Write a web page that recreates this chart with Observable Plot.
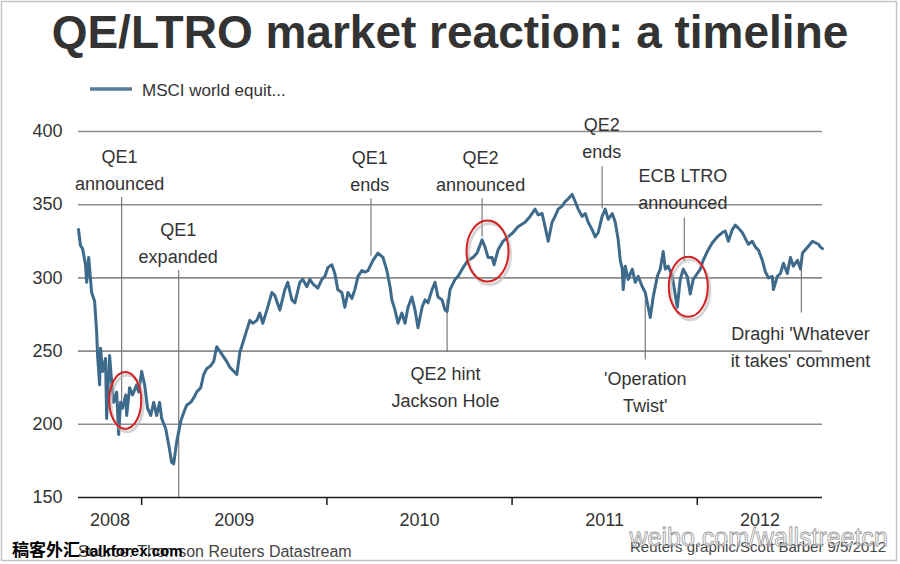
<!DOCTYPE html>
<html>
<head>
<meta charset="utf-8">
<script src="https://cdn.jsdelivr.net/npm/d3@7"></script>
<script src="https://cdn.jsdelivr.net/npm/@observablehq/plot@0.6"></script>
<style>
  html, body { margin: 0; padding: 0; background: #fff; }
  #wrap { position: relative; width: 900px; height: 564px; overflow: hidden; background: #fff;
          font-family: "Liberation Sans", Arial, sans-serif; }
  #plot { position: absolute; left: 0; top: 0; }
  #deco { position: absolute; left: 0; top: 0; pointer-events: none; }
</style>
</head>
<body>
<div id="wrap">
  <div id="plot"></div>
  <svg id="deco" width="900" height="564" xmlns="http://www.w3.org/2000/svg"></svg>
</div>
<script>
// ---------------- data ----------------
const titleText = "QE/LTRO market reaction: a timeline";
const seriesName = "MSCI world equit...";
const sourceText = "Source: Thomson Reuters Datastream";
const creditText = "Reuters graphic/Scott Barber 9/5/2012";
const watermarkLeftCJK = "稿客外汇";
const watermarkLeftLatin = "-talkforex.com";
const watermarkRight = "weibo.com/wallstreetcn";

// decimal years (date of observation)
const years = [
  2008.659, 2008.670, 2008.681, 2008.697, 2008.703, 2008.714, 2008.730, 2008.746, 2008.757, 2008.762,
  2008.773, 2008.778, 2008.789, 2008.805, 2008.811, 2008.827, 2008.838, 2008.849, 2008.865, 2008.876,
  2008.886, 2008.897, 2008.914, 2008.919, 2008.935, 2008.951, 2008.973, 2008.984, 2009.000, 2009.016,
  2009.032, 2009.049, 2009.065, 2009.081, 2009.097, 2009.108, 2009.130, 2009.146, 2009.162, 2009.173,
  2009.189, 2009.211, 2009.227, 2009.243, 2009.265, 2009.281, 2009.297, 2009.319, 2009.335, 2009.351,
  2009.373, 2009.389, 2009.405, 2009.427, 2009.459, 2009.476, 2009.514, 2009.530, 2009.557, 2009.584,
  2009.600, 2009.622, 2009.638, 2009.654, 2009.676, 2009.703, 2009.719, 2009.746, 2009.773, 2009.789,
  2009.811, 2009.827, 2009.854, 2009.870, 2009.892, 2009.908, 2009.924, 2009.951, 2009.973, 2009.989,
  2010.005, 2010.027, 2010.043, 2010.059, 2010.081, 2010.097, 2010.114, 2010.135, 2010.151, 2010.168,
  2010.189, 2010.205, 2010.222, 2010.249, 2010.276, 2010.303, 2010.324, 2010.341, 2010.351, 2010.368,
  2010.384, 2010.405, 2010.422, 2010.438, 2010.459, 2010.476, 2010.492, 2010.514, 2010.530, 2010.546,
  2010.568, 2010.584, 2010.600, 2010.622, 2010.638, 2010.649, 2010.665, 2010.692, 2010.708, 2010.735,
  2010.762, 2010.789, 2010.811, 2010.838, 2010.854, 2010.870, 2010.892, 2010.903, 2010.924, 2010.951,
  2010.978, 2011.005, 2011.032, 2011.070, 2011.097, 2011.124, 2011.141, 2011.162, 2011.178, 2011.195,
  2011.216, 2011.232, 2011.249, 2011.270, 2011.286, 2011.303, 2011.324, 2011.341, 2011.357, 2011.378,
  2011.395, 2011.411, 2011.432, 2011.449, 2011.465, 2011.486, 2011.503, 2011.519, 2011.541, 2011.557,
  2011.573, 2011.584, 2011.595, 2011.600, 2011.611, 2011.627, 2011.649, 2011.665, 2011.681, 2011.703,
  2011.719, 2011.735, 2011.746, 2011.762, 2011.784, 2011.800, 2011.816, 2011.827, 2011.843, 2011.865,
  2011.892, 2011.908, 2011.924, 2011.946, 2011.962, 2011.978, 2012.000, 2012.016, 2012.032, 2012.054,
  2012.081, 2012.108, 2012.135, 2012.151, 2012.168, 2012.189, 2012.205, 2012.222, 2012.243, 2012.259,
  2012.276, 2012.297, 2012.314, 2012.330, 2012.351, 2012.368, 2012.384, 2012.405, 2012.411, 2012.432,
  2012.449, 2012.465, 2012.486, 2012.503, 2012.519, 2012.541, 2012.557, 2012.568, 2012.595, 2012.622,
  2012.638, 2012.654, 2012.665, 2012.676
];
const msciWorld = [
  333, 322, 320, 309, 297, 314, 290, 284, 263, 247,
  227, 252, 236, 245, 204, 247, 229, 215, 222, 193,
  215, 211, 220, 206, 225, 220, 227, 222, 236, 227,
  211, 206, 215, 206, 215, 204, 197, 186, 174, 173,
  188, 202, 208, 213, 215, 218, 222, 225, 234, 238,
  240, 243, 253, 249, 243, 239, 234, 249, 260, 271,
  269, 271, 276, 269, 278, 290, 288, 278, 292, 297,
  285, 283, 297, 299, 294, 299, 296, 293, 299, 301,
  307, 309, 303, 292, 290, 280, 290, 286, 292, 301,
  305, 304, 305, 312, 317, 314, 305, 294, 285, 278,
  269, 276, 269, 280, 287, 278, 266, 280, 285, 283,
  292, 297, 287, 285, 278, 277, 292, 299, 301, 307,
  312, 314, 317, 326, 321, 314, 314, 309, 319, 325,
  328, 331, 335, 338, 342, 347, 343, 344, 335, 325,
  338, 342, 347, 349, 352, 354, 357, 352, 347, 342,
  344, 338, 333, 328, 331, 342, 347, 340, 344, 338,
  326, 312, 306, 292, 308, 299, 306, 297, 301, 294,
  290, 280, 273, 287, 301, 306, 318, 306, 308, 301,
  280, 299, 306, 301, 289, 299, 303, 306, 312, 318,
  324, 328, 331, 332, 325, 333, 336, 334, 331, 327,
  323, 325, 321, 319, 312, 304, 300, 301, 292, 301,
  303, 310, 303, 314, 308, 312, 306, 317, 321, 325,
  324, 323, 321, 320
];

const yTicks = [150, 200, 250, 300, 350, 400];
const gridLevels = [200, 250, 300, 350, 400];
const yearStarts = [2009, 2010, 2011, 2012];
const yearLabels = ["2008", "2009", "2010", "2011", "2012"];

// annotations
const eventLabels = ["QE1\nannounced", "QE1\nexpanded", "QE1\nends", "QE2 hint\nJackson Hole",
  "QE2\nannounced", "QE2\nends", "'Operation\nTwist'", "ECB LTRO\nannounced", "Draghi 'Whatever\nit takes' comment"];
const eventDates = [2008.892, 2009.200, 2010.238, 2010.649, 2010.838, 2011.486, 2011.719, 2011.930, 2012.562];
const leaderFrom = [355, 305, 354, 285, 354, 376, 285, 341, 305];
const leaderTo = [215, 150, 315, 249, 328, 347, 244, 311, 276];
const labelDates = [2008.881, 2009.197, 2010.232, 2010.641, 2010.830, 2011.484, 2011.719, 2011.922, 2012.557];
const labelLevels = [375.4, 325.4, 374.4, 226.6, 374.4, 397.3, 223.5, 362.0, 254.3];

// highlighted periods (red rings)
const ringDates = [2008.914, 2010.870, 2011.954];
const ringLevels = [216, 318, 293.6];

// ---------------- styles ----------------
const FONT = "Liberation Sans, Arial, Helvetica, sans-serif";
const LINE_COLOR = "#3e6a8b";
const TEXT_COLOR = "#333333";
const GRID_COLOR = "#8d8d8d";
const ringSizes = [[16, 28.5], [21, 30.5], [19.5, 30]];

// ---------------- build tables ----------------
const series = years.map((t, i) => ({t, v: msciWorld[i]}));
const events = eventDates.map((t, i) => ({t, y1: leaderFrom[i], y2: leaderTo[i]}));
const labels = eventLabels.map((s, i) => ({t: labelDates[i], v: labelLevels[i], s}));
const x0 = years[0], x1 = years[years.length - 1];
const bounds = [x0, ...yearStarts, x1];
const yearMids = yearLabels.map((s, i) => ({t: (bounds[i] + bounds[i + 1]) / 2, s}));

const chart = Plot.plot({
  width: 900,
  height: 564,
  marginLeft: 78,
  marginRight: 78,
  marginTop: 131,
  marginBottom: 67,
  x: {type: "linear", domain: [x0, x1], axis: null},
  y: {domain: [150, 400], axis: null},
  style: {fontFamily: FONT, fontSize: "18px", color: TEXT_COLOR, background: "transparent", overflow: "visible"},
  marks: [
    Plot.ruleY(gridLevels, {stroke: GRID_COLOR, strokeWidth: 1.6}),
    Plot.ruleY([150], {stroke: "#1a1a1a", strokeWidth: 1.6}),
    Plot.axisY(yTicks, {anchor: "left", tickSize: 0, tickPadding: 16, fontSize: 18, fill: TEXT_COLOR, label: null}),
    Plot.axisX(yearStarts, {anchor: "bottom", tickSize: 8, tickFormat: () => "", stroke: "#1a1a1a", strokeWidth: 1.5, label: null}),
    Plot.text(yearMids, {x: "t", text: "s", frameAnchor: "bottom", dy: 23, lineAnchor: "middle", fontSize: 18, fill: TEXT_COLOR}),
    Plot.ruleX(events, {x: "t", y1: "y1", y2: "y2", stroke: "#7a7a7a", strokeWidth: 1.2}),
    Plot.line(series, {x: "t", y: "v", stroke: LINE_COLOR, strokeWidth: 3, strokeLinejoin: "round", strokeLinecap: "round"}),
    Plot.text(labels, {x: "t", y: "v", text: "s", lineAnchor: "middle", lineHeight: 1.5, fontSize: 18, fill: TEXT_COLOR, ariaLabel: "annotations"})
  ]
});
document.getElementById("plot").appendChild(chart);

const svg = d3.select(chart);
// white label boxes (break gridlines behind annotation text)
svg.selectAll('g[aria-label="annotations"] text').each(function () {
  const b = this.getBBox();
  const node = this;
  d3.select(this.parentNode).insert("rect", () => node)
    .attr("x", b.x - 12).attr("y", b.y - 3)
    .attr("width", b.width + 24).attr("height", b.height + 6)
    .attr("fill", "#fff")
    .attr("transform", this.getAttribute("transform"));
});

// red rings
const sx = chart.scale("x"), sy = chart.scale("y");
const rings = svg.append("g");
ringDates.forEach((t, i) => {
  const cx = sx.apply(t), cy = sy.apply(ringLevels[i]);
  const [rx, ry] = ringSizes[i];
  rings.append("ellipse").attr("cx", cx + 2).attr("cy", cy + 3).attr("rx", rx).attr("ry", ry)
    .attr("fill", "none").attr("stroke", "#b9b9b9").attr("stroke-width", 3).attr("opacity", 0.6);
  rings.append("ellipse").attr("cx", cx).attr("cy", cy).attr("rx", rx).attr("ry", ry)
    .attr("fill", "none").attr("stroke", "#d42020").attr("stroke-width", 2);
});

// ---------------- title, legend, footer ----------------
const deco = d3.select("#deco");
deco.append("rect").attr("x", 1.5).attr("y", 1.5).attr("width", 895).attr("height", 559)
  .attr("fill", "none").attr("stroke", "#c4c4c4").attr("stroke-width", 1.5);
deco.append("text").attr("x", 450).attr("y", 48).attr("text-anchor", "middle")
  .attr("font-family", FONT).attr("font-weight", "bold").attr("font-size", 46)
  .attr("fill", "#333").text(titleText);
deco.append("line").attr("x1", 90).attr("x2", 132).attr("y1", 89).attr("y2", 89)
  .attr("stroke", "#587c97").attr("stroke-width", 3.5);
deco.append("text").attr("x", 142).attr("y", 95.5)
  .attr("font-family", FONT).attr("font-size", 17).attr("fill", TEXT_COLOR).text(seriesName);
deco.append("text").attr("x", 78).attr("y", 557)
  .attr("font-family", FONT).attr("font-size", 16).attr("fill", "#444").text(sourceText);
deco.append("text").attr("x", 886).attr("y", 552).attr("text-anchor", "end")
  .attr("font-family", FONT).attr("font-size", 15).attr("fill", "#444").text(creditText);
deco.append("text").attr("x", 888).attr("y", 546).attr("text-anchor", "end")
  .attr("font-family", FONT).attr("font-size", 25).attr("fill", "#ffffff").attr("fill-opacity", 0.55)
  .attr("stroke", "#9a9a9a").attr("stroke-width", 0.8).text(watermarkRight);
const wl = deco.append("text").attr("x", 12).attr("y", 556).attr("fill", "#000");
wl.append("tspan").attr("font-family", "Noto Sans CJK SC").attr("font-weight", "bold").attr("font-size", 17).text(watermarkLeftCJK);
wl.append("tspan").attr("font-family", FONT).attr("font-weight", "bold").attr("font-size", 15).text(watermarkLeftLatin);
</script>
</body>
</html>
